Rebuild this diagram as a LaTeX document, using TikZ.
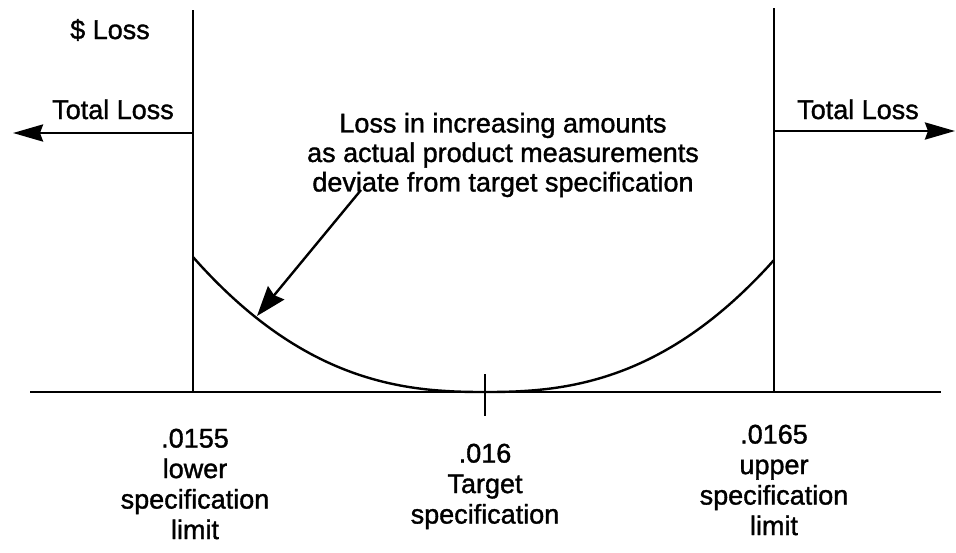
\documentclass[tikz,border=0pt]{standalone}
\usepackage{fontspec}
\setmainfont[FakeBold=1.3]{Liberation Sans}
\usetikzlibrary{arrows.meta}
\begin{document}
\begin{tikzpicture}[x=1pt, y=-1pt,
    lbl/.style={font=\fontsize{27}{30.5}\selectfont, inner sep=0pt, align=center},
    rule/.style={line width=2pt},
    axisline/.style={line width=2.8pt},
    bigarrow/.style={line width=2.8pt, -{Stealth[length=30pt, width=17pt, inset=3pt]}},
    pointer/.style={line width=2.4pt, -{Stealth[length=30pt, width=21pt, inset=3pt]}},
    losscurve/.style={line width=2.4pt}]
  \useasboundingbox (0,0) rectangle (956,552);

  % specification limits and target
  \coordinate (lsltop) at (193,10);
  \coordinate (lslbot) at (193,392);
  \coordinate (usltop) at (774,8);
  \coordinate (uslbot) at (774,392);
  \coordinate (axisL) at (30,392);
  \coordinate (axisR) at (941,392);
  \coordinate (ticktop) at (485,374);
  \coordinate (tickbot) at (485,416);

  \draw[rule] (lsltop) -- (lslbot);
  \draw[rule] (usltop) -- (uslbot);
  \draw[axisline] (axisL) -- (axisR);
  \draw[rule] (ticktop) -- (tickbot);

  % loss function
  \draw[losscurve]
    plot[domain=1:0.002, samples=90] ({485-292*\x}, {392-135*\x^2.45})
    -- plot[domain=0.002:1, samples=90] ({485+289*\x}, {392-132*\x^2.45});

  % total loss outside the limits
  \coordinate (leftstart) at (193,133);
  \coordinate (lefttip) at (13,133);
  \coordinate (rightstart) at (774,131);
  \coordinate (righttip) at (955,131);
  \draw[bigarrow] (leftstart) -- (lefttip);
  \draw[bigarrow] (rightstart) -- (righttip);

  % labels
  \node[lbl, anchor=base] (dollar) at (110,39) {\$ Loss};
  \node[lbl, anchor=base] (totL) at (113,119) {Total Loss};
  \node[lbl, anchor=base] (totR) at (858,119) {Total Loss};
  \node[lbl, font=\fontsize{27}{29.5}\selectfont] (note) at (503,155)
    {Loss in increasing amounts\\as actual product measurements\\deviate from target specification};

  \node[lbl, anchor=north] (lsl) at (195,428.5) {.0155\\lower\\specification\\limit};
  \node[lbl, anchor=north] (tgt) at (485,443.5) {.016\\Target\\specification};
  \node[lbl, anchor=north] (usl) at (774,424.5) {.0165\\upper\\specification\\limit};

  % pointer from the note to the curve
  \coordinate (pointerstart) at (361,190);
  \coordinate (pointertip) at (257,316);
  \draw[pointer] (pointerstart) -- (pointertip);
\end{tikzpicture}
\end{document}
